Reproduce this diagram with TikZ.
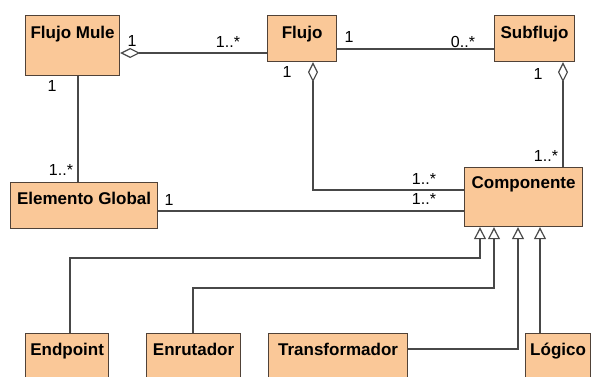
\documentclass[tikz,border=0pt]{standalone}
\usepackage{fontspec}
\setmainfont{Liberation Sans}
\usetikzlibrary{arrows.meta,calc}
\definecolor{clsfill}{RGB}{250,200,152}
\definecolor{clsline}{RGB}{80,66,56}
\definecolor{conline}{RGB}{72,72,72}

\begin{document}
\begin{tikzpicture}[x=1pt,y=-1pt,
  cls/.style={draw=clsline,fill=clsfill,line width=1.2pt,anchor=north west,inner xsep=0pt,inner ysep=0pt,
    font=\fontsize{17}{20}\selectfont\bfseries,text height=22pt,text depth=24pt},
  mult/.style={font=\fontsize{16}{19}\selectfont,inner sep=0pt},
  con/.style={draw=conline,line width=1.2pt},
  agg/.style={con,{Diamond[open,length=20pt,width=10pt]}-},
  gen/.style={con,-{Triangle[open,length=12pt,width=12pt]}}]
\useasboundingbox (0,0) rectangle (592,376);
\clip (0,0) rectangle (592,376);
\node[cls,minimum width=94pt,text height=23pt,text depth=37pt] (fm) at (25,15) {Flujo Mule};
\node[cls,minimum width=69pt,text height=23pt,text depth=23pt] (fl) at (267,15) {Flujo};
\node[cls,minimum width=80pt,text height=23pt,text depth=23pt] (sf) at (494,15) {Subflujo};
\node[cls,minimum width=147pt] (eg) at (10,182) {Elemento Global};
\node[cls,minimum width=118pt,text height=21pt,text depth=38pt] (co) at (464,167) {Componente};
\node[cls,minimum width=83pt] (ep) at (25,333) {Endpoint};
\node[cls,minimum width=94pt] (en) at (146,333) {Enrutador};
\node[cls,minimum width=139pt] (tr) at (268,333) {Transformador};
\node[cls,minimum width=65pt] (lo) at (525,333) {Lógico};
\draw[agg] ($(fm.north east)+(0,38)$) coordinate (a1) -- (a1 -| fl.west);
\draw[con] ($(fl.north east)+(0,34)$) coordinate (a2) -- (a2 -| sf.west);
\draw[agg] ($(fl.south west)+(46,0)$) |- ($(co.north west)+(0,23)$);
\draw[agg] ($(sf.south west)+(69,0)$) coordinate (a3) -- (a3 |- co.north);
\draw[con] ($(fm.south west)+(53,0)$) coordinate (a4) -- (a4 |- eg.north);
\draw[con] ($(eg.north east)+(0,29)$) coordinate (a5) -- (a5 -| co.west);
\draw[gen] ($(ep.north west)+(45,0)$) -- ++(0,-75) -| ($(co.south west)+(16,0)$);
\draw[gen] ($(en.north west)+(47,0)$) -- ++(0,-45) -| ($(co.south west)+(30,0)$);
\draw[gen] ($(tr.north east)+(0,16)$) -| ($(co.south west)+(54,0)$);
\draw[gen] ($(lo.north west)+(15,0)$) coordinate (a6) -- (a6 |- co.south);
\node[mult] (l1) at (132,41) {1};
\node[mult] (l2) at (228,42) {1..*};
\node[mult] (l3) at (52,86) {1};
\node[mult] (l4) at (61,170) {1..*};
\node[mult] (l5) at (287,72) {1};
\node[mult] (l6) at (349,37) {1};
\node[mult] (l7) at (463,42) {0..*};
\node[mult] (l8) at (538,74) {1};
\node[mult] (l9) at (546,156) {1..*};
\node[mult] (l10) at (424,179) {1..*};
\node[mult] (l11) at (424,199) {1..*};
\node[mult] (l12) at (169,200) {1};
\end{tikzpicture}
\end{document}
